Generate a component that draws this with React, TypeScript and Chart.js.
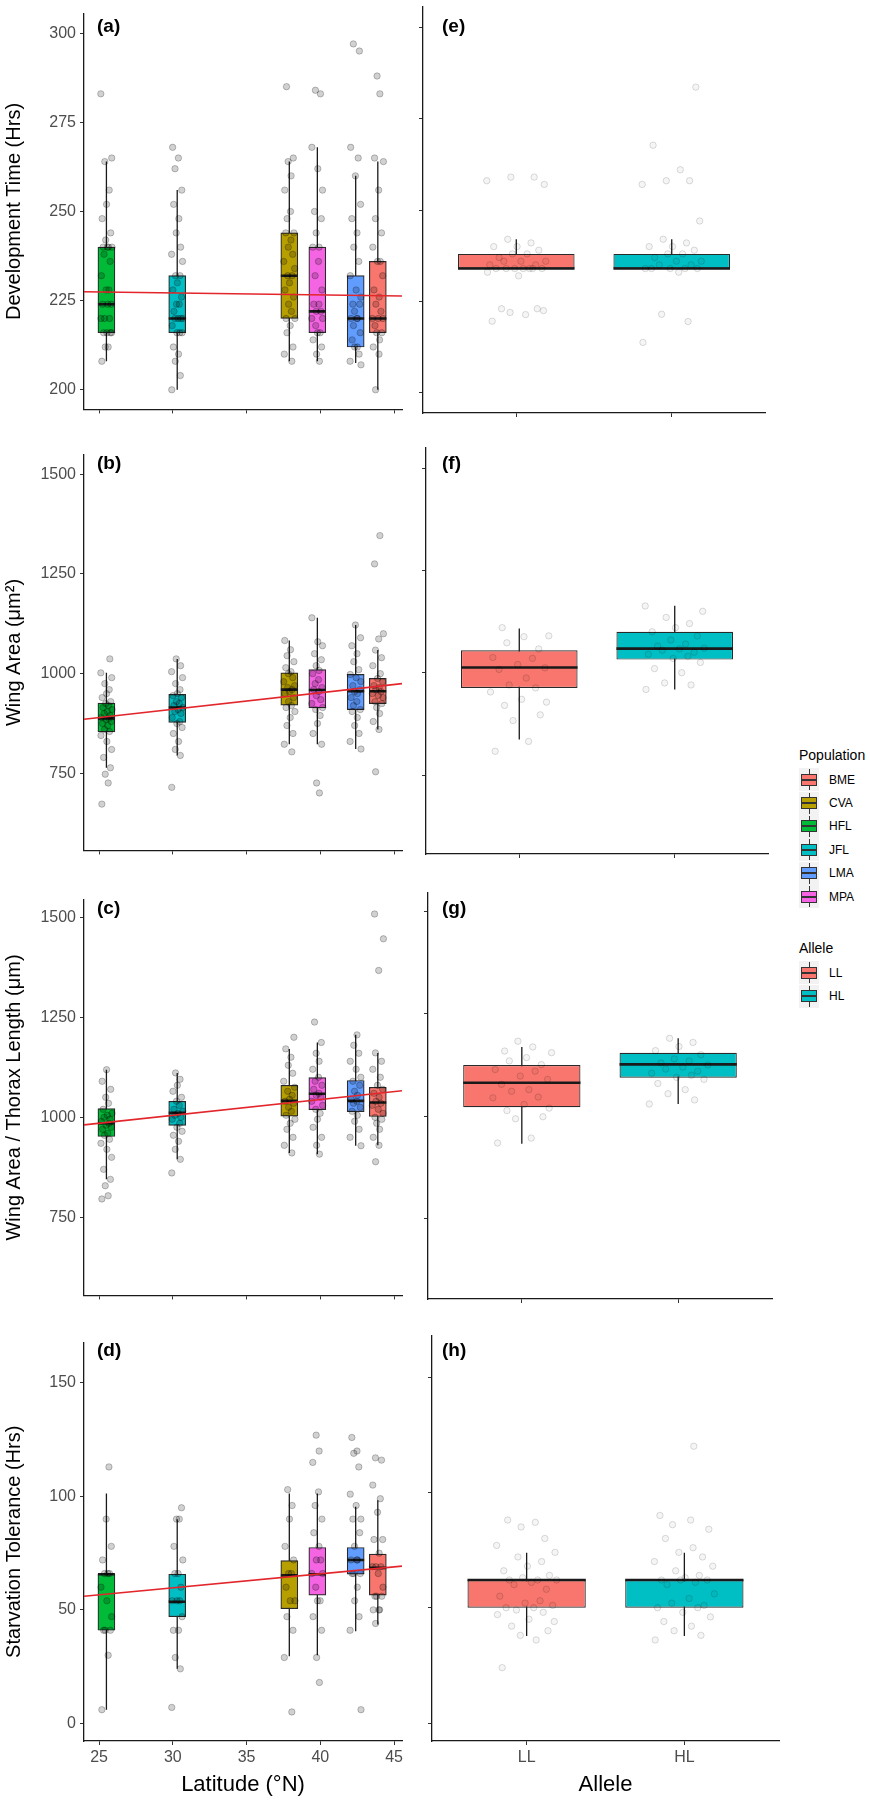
import React, { useEffect, useRef } from 'react';
import { Chart, registerables } from 'chart.js';

Chart.register(...registerables);

// ---------------- data ----------------
const POP_ORDER = ['HFL', 'JFL', 'CVA', 'MPA', 'LMA', 'BME'];
const POP_LAT = [25.5, 30.3, 37.9, 39.8, 42.4, 43.9];
const LEGEND_POPS = ['BME', 'CVA', 'HFL', 'JFL', 'LMA', 'MPA'];
const ALLELES = ['LL', 'HL'];
const ALLELE_POS = [1, 2];

const LAT_TICKS = [25, 30, 35, 40, 45];
const DEV_TICKS = [200, 225, 250, 275, 300];
const WING_TICKS = [750, 1000, 1250, 1500];
const RATIO_TICKS = [750, 1000, 1250, 1500];
const STARV_TICKS = [0, 50, 100, 150];

// (a) Development time by population
const DEV_Q1 = [216, 216, 220, 216, 212, 216];
const DEV_MED = [224, 220, 232, 222, 220, 220];
const DEV_Q3 = [240, 232, 244, 240, 232, 236];
const DEV_LO = [208, 200, 208, 208, 207.5, 200];
const DEV_HI = [264, 256, 264, 268, 260, 264];
const DEV_FIT = [227.5, 226.3];
const DEV_POINTS = [
  [208, 212, 212, 216, 216, 216, 216, 220, 220, 220, 224, 224, 224, 228, 228, 232, 236, 238, 240, 240, 240, 240, 242, 244, 248, 252, 256, 264, 265, 283],
  [200, 204, 208, 210, 212, 216, 216, 216, 218, 220, 220, 220, 220, 222, 224, 224, 226, 228, 230, 232, 232, 236, 238, 240, 244, 248, 252, 256, 262, 265, 268],
  [208, 210, 212, 216, 218, 220, 220, 222, 224, 226, 228, 230, 232, 232, 234, 236, 238, 240, 242, 244, 244, 248, 250, 256, 260, 264, 265, 285],
  [208, 210, 212, 214, 216, 216, 218, 220, 220, 222, 222, 224, 224, 228, 232, 236, 240, 240, 244, 248, 250, 256, 262, 268, 283, 284],
  [207, 208, 210, 212, 212, 214, 216, 218, 220, 220, 220, 222, 224, 224, 226, 228, 232, 236, 240, 244, 248, 252, 260, 265, 268, 295, 297],
  [200, 210, 212, 214, 216, 216, 218, 220, 220, 220, 222, 224, 226, 228, 232, 236, 236, 240, 244, 248, 256, 264, 265, 283, 288],
];

// (b) Wing area by population
const WING_Q1 = [854, 878, 921, 914, 910, 925];
const WING_MED = [888, 915, 960, 959, 956, 956];
const WING_Q3 = [926, 948, 1002, 1010, 998, 988];
const WING_LO = [764, 795, 823, 823, 811, 860];
const WING_HI = [1002, 1037, 1083, 1140, 1122, 1059];
const WING_FIT = [885.8, 975];
const WING_POINTS = [
  [673, 726, 748, 764, 790, 810, 830, 845, 855, 860, 870, 875, 880, 885, 888, 890, 895, 900, 905, 910, 915, 920, 925, 930, 940, 950, 960, 975, 990, 1002, 1037],
  [715, 795, 810, 830, 850, 865, 875, 880, 890, 900, 905, 910, 915, 920, 925, 930, 940, 945, 950, 960, 975, 990, 1005, 1020, 1037],
  [804, 823, 850, 870, 890, 905, 915, 920, 930, 940, 950, 955, 960, 965, 970, 980, 990, 1000, 1005, 1015, 1030, 1045, 1060, 1083],
  [701, 726, 823, 850, 875, 895, 910, 915, 925, 935, 945, 955, 960, 965, 975, 985, 1000, 1008, 1020, 1035, 1050, 1070, 1080, 1140],
  [811, 830, 850, 870, 890, 905, 910, 920, 930, 940, 950, 955, 960, 970, 980, 990, 998, 1010, 1030, 1050, 1070, 1090, 1122],
  [754, 860, 880, 900, 915, 925, 930, 940, 945, 950, 955, 960, 965, 970, 980, 988, 1000, 1020, 1040, 1059, 1087, 1100, 1275, 1346],
];

// (c) Wing area / thorax length by population
const RATIO_Q1 = [952, 980, 1003, 1019, 1014, 1002];
const RATIO_MED = [985, 1011, 1041, 1059, 1041, 1037];
const RATIO_Q3 = [1022, 1040, 1080, 1099, 1092, 1075];
const RATIO_LO = [845, 895, 911, 908, 929, 930];
const RATIO_HI = [1119, 1111, 1171, 1187, 1206, 1161];
const RATIO_FIT = [981, 1066.5];
const RATIO_POINTS = [
  [796, 804, 829, 845, 870, 900, 920, 935, 945, 955, 960, 970, 975, 980, 985, 990, 995, 1000, 1005, 1010, 1020, 1035, 1050, 1070, 1090, 1119],
  [861, 895, 920, 940, 955, 965, 975, 985, 995, 1000, 1005, 1010, 1015, 1020, 1030, 1040, 1050, 1065, 1080, 1095, 1111],
  [911, 930, 950, 970, 985, 995, 1005, 1015, 1025, 1035, 1040, 1045, 1055, 1065, 1075, 1090, 1110, 1130, 1150, 1171, 1200],
  [908, 930, 950, 975, 995, 1010, 1020, 1030, 1040, 1050, 1055, 1060, 1070, 1080, 1090, 1100, 1120, 1140, 1160, 1187, 1238],
  [929, 950, 970, 990, 1005, 1015, 1025, 1035, 1040, 1045, 1055, 1065, 1080, 1090, 1100, 1120, 1140, 1160, 1180, 1206],
  [889, 930, 950, 970, 985, 995, 1000, 1010, 1020, 1030, 1035, 1040, 1050, 1060, 1070, 1080, 1100, 1120, 1140, 1161, 1367, 1446, 1508],
];

// (d) Starvation tolerance by population
const STARV_Q1 = [41, 47, 50.5, 56.5, 65.7, 56.5];
const STARV_MED = [65.7, 53.6, 65.2, 65.7, 72, 68.5];
const STARV_Q3 = [65.7, 65.7, 71.7, 77.5, 77.5, 74.6];
const STARV_LO = [6, 24, 29.5, 30, 40.6, 43.5];
const STARV_HI = [101.3, 89.9, 101.3, 101.3, 95.4, 98.3];
const STARV_FIT = [56, 69.3];
const STARV_POINTS = [
  [6, 30, 41, 41, 41, 47, 54, 60, 66, 66, 66, 72, 78, 90, 113],
  [7, 24, 29, 41, 41, 47, 54, 54, 54, 60, 66, 66, 72, 78, 90, 90, 95],
  [5, 29, 41, 47, 54, 54, 60, 66, 66, 72, 78, 90, 96, 103],
  [18, 29, 41, 47, 54, 54, 60, 66, 66, 72, 72, 78, 84, 90, 96, 102, 115, 120, 127],
  [6, 41, 47, 54, 60, 66, 66, 66, 72, 72, 72, 78, 84, 90, 90, 96, 101, 113, 119, 120, 126],
  [44, 50, 50, 50, 56, 56, 56, 60, 66, 69, 69, 69, 75, 81, 81, 93, 99, 105, 116, 117],
];

// (e)-(h) by allele (LL, HL)
const A_DEV_Q1 = [234, 234];
const A_DEV_MED = [234, 234];
const A_DEV_Q3 = [238, 238];
const A_DEV_LO = [234, 234];
const A_DEV_HI = [242, 242];
const A_DEV_POINTS = [
  [219.6, 221.4, 222, 223, 223, 222.5, 232, 233, 234, 234, 234, 234, 234, 234, 234, 235, 235, 236, 236, 236, 237, 238, 238, 239, 240, 240, 241, 242, 257, 258, 259, 259],
  [213.8, 219.5, 221.5, 233, 234, 234, 234, 234, 234, 235, 235, 236, 236, 237, 238, 238, 239, 240, 240, 241, 242, 247, 257, 258, 258, 261, 267.7, 283.6],
];

const A_WING_Q1 = [962.6, 1032];
const A_WING_MED = [1012.7, 1058.7];
const A_WING_Q3 = [1054.7, 1100];
const A_WING_LO = [837, 959];
const A_WING_HI = [1108, 1163.8];
const A_WING_POINTS = [
  [808, 832, 883, 897, 920, 928, 935, 953, 963, 970, 987, 1008, 1012, 1020, 1035, 1037, 1058, 1073, 1088, 1090, 1110],
  [959, 970, 975, 1000, 1010, 1025, 1035, 1040, 1045, 1050, 1055, 1058, 1060, 1065, 1070, 1080, 1090, 1100, 1110, 1120, 1135, 1150, 1163],
];

const A_RATIO_Q1 = [1022, 1094];
const A_RATIO_MED = [1081.7, 1126.5];
const A_RATIO_Q3 = [1125, 1155];
const A_RATIO_LO = [933, 1030];
const A_RATIO_HI = [1169, 1190];
const A_RATIO_POINTS = [
  [935, 947, 994, 999, 1014, 1020, 1029, 1045, 1047, 1061, 1065, 1078, 1090, 1098, 1110, 1114, 1126, 1135, 1143, 1155, 1159, 1169, 1183],
  [1030, 1040, 1055, 1065, 1080, 1090, 1095, 1100, 1105, 1110, 1115, 1120, 1125, 1130, 1135, 1140, 1150, 1160, 1170, 1180, 1190],
];

const A_STARV_Q1 = [50, 50];
const A_STARV_MED = [62, 62];
const A_STARV_Q3 = [62, 62];
const A_STARV_LO = [37.7, 37.7];
const A_STARV_HI = [73.8, 73.8];
const A_STARV_POINTS = [
  [24, 36, 38, 40, 42, 44, 45, 47, 48, 49, 50, 50, 51, 52, 53, 55, 58, 60, 61, 62, 62, 62, 63, 64, 66, 68, 70, 72, 74, 77, 80, 85, 87, 88],
  [36, 38, 40, 42, 44, 46, 48, 50, 50, 51, 52, 54, 56, 60, 61, 62, 62, 62, 63, 64, 66, 68, 70, 72, 74, 76, 80, 84, 86, 88, 90, 120],
];

// ---------------- styles / layout ----------------
const POP_COLORS: Record<string, string> = {
  BME: '#F8766D', CVA: '#B79F00', HFL: '#00BA38', JFL: '#00BFC4', LMA: '#619CFF', MPA: '#F564E3',
};
const ALLELE_COLORS = ['#F8766D', '#00BFC4'];
const FONT = '"Liberation Sans", Arial, Helvetica, sans-serif';
const JITTER = [-0.31, 0.12, -0.08, 0.27, -0.19, 0.35, 0.03, -0.37, 0.21, -0.13, 0.09, -0.26, 0.33, -0.02, 0.17, -0.34, 0.25, -0.16, 0.06, 0.38, -0.22, 0.14, -0.05, 0.29, -0.29, 0.01, 0.19, -0.11, 0.36, -0.38, 0.23, -0.07, 0.11, -0.24, 0.31, -0.15, 0.08];

const ROW_TOP = [7, 448, 893, 1336];
const ROW_H = [406, 406, 406, 405];
const LEFT_X = [84, 402];
const RIGHT_X = [[423, 765], [426, 768], [428, 772], [432, 779]];
const LAT_MIN = 23.98;
const LAT_MAX = 45.54;
const Y_RANGES = [[194.5, 305.5], [557, 1549], [555, 1544], [-7.8, 167.8]];
const Y_TICK_SETS = [DEV_TICKS, WING_TICKS, RATIO_TICKS, STARV_TICKS];
const Y_TITLES = ['Development Time (Hrs)', 'Wing Area (\u03BCm\u00B2)', 'Wing Area / Thorax Length (\u03BCm)', 'Starvation Tolerance (Hrs)'];
const LEFT_LETTERS = ['(a)', '(b)', '(c)', '(d)'];
const RIGHT_LETTERS = ['(e)', '(f)', '(g)', '(h)'];
const LETTER_Y = [26, 463, 908, 1350];

type Spec = {
  xs: number[]; colors: string[];
  q1: number[]; med: number[]; q3: number[]; lo: number[]; hi: number[]; pts: number[][];
  fit?: number[];
  xMin: number; xMax: number; xTicks: number[]; xLabels?: string[]; showX: boolean; xTitle?: string;
  yMin: number; yMax: number; yTicks: number[]; showY: boolean; yTitle?: string;
  halfW: number; barThickness?: number; barPercentage?: number;
  jitter: number; ptFill: string; ptStroke: string;
  yAxisW: number; xAxisH: number; padTop: number; padRight: number;
};

function buildConfig(s: Spec): any {
  const whiskers: any[] = [];
  const medians: any[] = [];
  const points: any[] = [];
  s.xs.forEach((x, i) => {
    whiskers.push({ x, y: s.lo[i] }, { x, y: s.hi[i] }, { x, y: null });
    medians.push({ x: x - s.halfW, y: s.med[i] }, { x: x + s.halfW, y: s.med[i] }, { x, y: null });
    s.pts[i].forEach((v, k) => {
      points.push({ x: x + JITTER[(k + i * 7) % JITTER.length] * s.jitter, y: v });
    });
  });
  const datasets: any[] = [];
  if (s.fit) {
    datasets.push({
      type: 'line', order: 0,
      data: [{ x: s.xMin, y: s.fit[0] }, { x: s.xMax, y: s.fit[1] }],
      borderColor: '#E3262B', borderWidth: 1.6, pointRadius: 0,
    });
  }
  datasets.push({
    type: 'line', order: 1, data: points, showLine: false,
    pointRadius: 3.2, pointBackgroundColor: s.ptFill, pointBorderColor: s.ptStroke, pointBorderWidth: 0.8,
  });
  datasets.push({
    type: 'line', order: 2, data: medians, borderColor: '#1a1a1a', borderWidth: 2.6, pointRadius: 0, spanGaps: false,
  });
  datasets.push({
    type: 'bar', order: 3,
    data: s.xs.map((x, i) => ({ x, y: [s.q1[i], s.q3[i]] })),
    backgroundColor: s.colors, borderColor: '#2a2a2a', borderWidth: 1.2, borderSkipped: false,
    barThickness: s.barThickness, barPercentage: s.barPercentage ?? 0.9, categoryPercentage: 1,
  });
  datasets.push({
    type: 'line', order: 4, data: whiskers, borderColor: '#1a1a1a', borderWidth: 1.3, pointRadius: 0, spanGaps: false,
  });

  const tickFont = { family: FONT, size: 16 };
  const titleFont = { family: FONT, size: 20 };
  const xTitleFont = { family: FONT, size: 22 };
  return {
    type: 'bar',
    data: { datasets },
    options: {
      animation: false,
      responsive: false,
      events: [],
      layout: { padding: { top: s.padTop, right: s.padRight, left: 0, bottom: 0 } },
      plugins: { legend: { display: false }, tooltip: { enabled: false } },
      scales: {
        x: {
          type: 'linear', min: s.xMin, max: s.xMax, offset: false,
          grid: { display: true, drawOnChartArea: false, drawTicks: true, tickLength: 4, tickColor: '#333', tickWidth: 1, offset: false },
          border: { display: true, color: '#1a1a1a', width: 1.3 },
          ticks: {
            display: s.showX, autoSkip: false, maxRotation: 0,
            font: tickFont, color: '#4d4d4d', padding: 3,
            callback: (v: number) => (s.xLabels ? s.xLabels[Math.round(v) - 1] : String(v)),
          },
          afterBuildTicks: (sc: any) => { sc.ticks = s.xTicks.map((v) => ({ value: v })); },
          title: s.xTitle ? { display: true, text: s.xTitle, font: xTitleFont, color: '#000', padding: { top: 0, bottom: 2 } } : { display: false },
          afterFit: (sc: any) => { sc.height = s.xAxisH; },
        },
        y: {
          type: 'linear', min: s.yMin, max: s.yMax,
          grid: { display: true, drawOnChartArea: false, drawTicks: true, tickLength: 4, tickColor: '#333', tickWidth: 1 },
          border: { display: true, color: '#1a1a1a', width: 1.3 },
          ticks: { display: s.showY, font: tickFont, color: '#4d4d4d', padding: 4, callback: (v: number) => String(v) },
          afterBuildTicks: (sc: any) => { sc.ticks = s.yTicks.map((v) => ({ value: v })); },
          title: s.yTitle ? { display: true, text: s.yTitle, font: titleFont, color: '#000', padding: { top: 2, bottom: 0 } } : { display: false },
          afterFit: (sc: any) => { sc.width = s.yAxisW; },
        },
      },
    },
  };
}

function Panel({ spec, left, top, width, height }: { spec: Spec; left: number; top: number; width: number; height: number }) {
  const ref = useRef<HTMLCanvasElement>(null);
  useEffect(() => {
    const chart = new Chart(ref.current as HTMLCanvasElement, buildConfig(spec));
    return () => chart.destroy();
  }, []);
  return (
    <div style={{ position: 'absolute', left, top, width, height }}>
      <canvas ref={ref} width={width} height={height} style={{ width, height, display: 'block' }} />
    </div>
  );
}

const POP_STATS = [
  [DEV_Q1, DEV_MED, DEV_Q3, DEV_LO, DEV_HI, DEV_POINTS, DEV_FIT],
  [WING_Q1, WING_MED, WING_Q3, WING_LO, WING_HI, WING_POINTS, WING_FIT],
  [RATIO_Q1, RATIO_MED, RATIO_Q3, RATIO_LO, RATIO_HI, RATIO_POINTS, RATIO_FIT],
  [STARV_Q1, STARV_MED, STARV_Q3, STARV_LO, STARV_HI, STARV_POINTS, STARV_FIT],
] as any[];
const ALLELE_STATS = [
  [A_DEV_Q1, A_DEV_MED, A_DEV_Q3, A_DEV_LO, A_DEV_HI, A_DEV_POINTS],
  [A_WING_Q1, A_WING_MED, A_WING_Q3, A_WING_LO, A_WING_HI, A_WING_POINTS],
  [A_RATIO_Q1, A_RATIO_MED, A_RATIO_Q3, A_RATIO_LO, A_RATIO_HI, A_RATIO_POINTS],
  [A_STARV_Q1, A_STARV_MED, A_STARV_Q3, A_STARV_LO, A_STARV_HI, A_STARV_POINTS],
] as any[];

function LegendKey({ color }: { color: string }) {
  return (
    <div style={{ position: 'relative', width: 20, height: 23, background: '#f2f2f2' }}>
      <div style={{ position: 'absolute', left: 9.5, top: 1, width: 1, height: 21, background: '#333' }} />
      <div style={{ position: 'absolute', left: 2, top: 5.5, width: 16, height: 12, background: color, border: '1px solid #333', boxSizing: 'border-box' }} />
      <div style={{ position: 'absolute', left: 2, top: 10.5, width: 16, height: 2, background: '#333' }} />
    </div>
  );
}

function LegendBlock({ title, items, colors, top }: { title: string; items: string[]; colors: string[]; top: number }) {
  return (
    <div style={{ position: 'absolute', left: 799, top, fontFamily: FONT }}>
      <div style={{ fontSize: 14, lineHeight: '18px', height: 18, color: '#000', whiteSpace: 'nowrap' }}>{title}</div>
      <div style={{ marginTop: 4 }}>
        {items.map((it, i) => (
          <div key={it} style={{ display: 'flex', alignItems: 'center', height: 23.4 }}>
            <LegendKey color={colors[i]} />
            <span style={{ marginLeft: 10, fontSize: 12, color: '#000' }}>{it}</span>
          </div>
        ))}
      </div>
    </div>
  );
}

export default function App() {
  const panels: any[] = [];
  for (let r = 0; r < 4; r++) {
    const [yMin, yMax] = Y_RANGES[r];
    const yTicks = Y_TICK_SETS[r];
    const last = r === 3;
    const padTop = 7;
    const xAxisH = last ? 1800 - (ROW_TOP[r] + ROW_H[r]) : 10;
    const height = padTop + ROW_H[r] + xAxisH;
    const top = ROW_TOP[r] - padTop;
    const ps = POP_STATS[r];
    const leftSpec: Spec = {
      xs: POP_LAT, colors: POP_ORDER.map((p) => POP_COLORS[p]),
      q1: ps[0], med: ps[1], q3: ps[2], lo: ps[3], hi: ps[4], pts: ps[5], fit: ps[6],
      xMin: LAT_MIN, xMax: LAT_MAX, xTicks: LAT_TICKS, showX: last, xTitle: last ? 'Latitude (\u00B0N)' : undefined,
      yMin, yMax, yTicks, showY: true, yTitle: Y_TITLES[r],
      halfW: 0.575, barThickness: 17,
      jitter: 1.0, ptFill: 'rgba(0,0,0,0.18)', ptStroke: 'rgba(0,0,0,0.3)',
      yAxisW: LEFT_X[0], xAxisH, padTop, padRight: 10,
    };
    panels.push(<Panel key={'l' + r} spec={leftSpec} left={0} top={top} width={LEFT_X[1] + 10} height={height} />);

    const as = ALLELE_STATS[r];
    const [rl, rr] = RIGHT_X[r];
    const rightSpec: Spec = {
      xs: ALLELE_POS, colors: ALLELE_COLORS,
      q1: as[0], med: as[1], q3: as[2], lo: as[3], hi: as[4], pts: as[5],
      xMin: 0.4, xMax: 2.6, xTicks: ALLELE_POS, xLabels: ALLELES, showX: last, xTitle: last ? 'Allele' : undefined,
      yMin, yMax, yTicks, showY: false,
      halfW: 0.375, barPercentage: 0.75,
      jitter: 0.5, ptFill: 'rgba(0,0,0,0.04)', ptStroke: 'rgba(0,0,0,0.18)',
      yAxisW: 12, xAxisH, padTop, padRight: 8,
    };
    panels.push(<Panel key={'r' + r} spec={rightSpec} left={rl - 12} top={top} width={12 + (rr - rl) + 8} height={height} />);
  }

  const letterStyle = (left: number, cy: number): React.CSSProperties => ({
    position: 'absolute', left, top: cy - 11, height: 22, lineHeight: '22px',
    fontFamily: FONT, fontWeight: 'bold', fontSize: 19, color: '#000',
  });

  return (
    <div style={{ position: 'absolute', left: 0, top: 0, width: 870, height: 1800, background: '#fff', overflow: 'hidden' }}>
      {panels}
      {LEFT_LETTERS.map((t, i) => <div key={t} style={letterStyle(97, LETTER_Y[i])}>{t}</div>)}
      {RIGHT_LETTERS.map((t, i) => <div key={t} style={letterStyle(442, LETTER_Y[i])}>{t}</div>)}
      <LegendBlock title="Population" items={LEGEND_POPS} colors={LEGEND_POPS.map((p) => POP_COLORS[p])} top={746} />
      <LegendBlock title="Allele" items={ALLELES} colors={ALLELE_COLORS} top={939} />
    </div>
  );
}
